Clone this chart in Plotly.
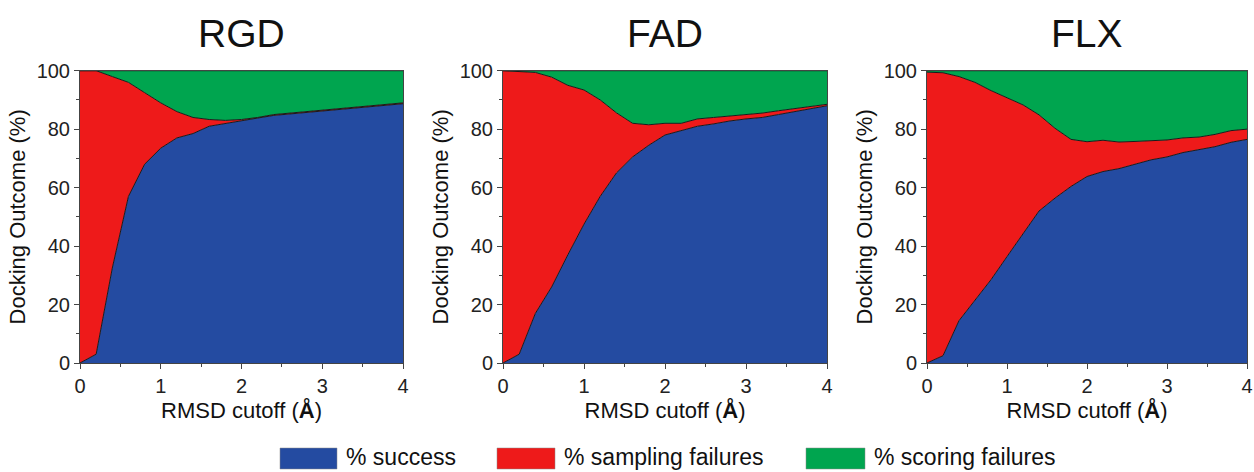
import plotly.graph_objects as go

# RMSD cutoff values (Å)
rmsd = [0.0, 0.2, 0.4, 0.6, 0.8, 1.0, 1.2, 1.4, 1.6, 1.8, 2.0,
        2.2, 2.4, 2.6, 2.8, 3.0, 3.2, 3.4, 3.6, 3.8, 4.0]

panel_titles = ["RGD", "FAD", "FLX"]

# Docking outcome percentages per protocol
rgd_success = [0, 3, 32.5, 57, 68, 73.5, 77, 78.5, 81, 82, 83,
               83.8, 84.7, 85.2, 85.7, 86, 86.7, 87.2, 87.5, 88, 88.7]
rgd_sampling = [100, 97, 65.5, 39, 24.5, 15.5, 9, 5.5, 2.3, 1, 0.3,
                0.2, 0.3, 0.3, 0.3, 0.3, 0.3, 0.3, 0.3, 0.3, 0.3]
rgd_scoring = [0, 0, 2, 4, 7.5, 11, 14, 16, 16.7, 17, 16.7,
               16, 15, 14.5, 14, 13.7, 13, 12.5, 12.2, 11.7, 11]

fad_success = [0, 3, 17, 26, 37, 47.5, 57, 65, 70.5, 74.5, 78,
               79.5, 81, 81.8, 82.8, 83.5, 84, 85, 86, 87, 88]
fad_sampling = [100, 96.8, 82.4, 71.8, 58, 45.9, 33, 20.6, 11.5, 7, 4,
                2.5, 2.5, 2.2, 1.7, 1.5, 1.5, 1.3, 1, 0.8, 0.5]
fad_scoring = [0, 0.2, 0.6, 2.2, 5, 6.6, 10, 14.4, 18, 18.5, 18,
               18, 16.5, 16, 15.5, 15, 14.5, 13.7, 13, 12.2, 11.5]

flx_success = [0, 2.5, 14.5, 21.5, 28.5, 36.4, 44.4, 52, 56.4, 60.4, 63.8,
               65.5, 66.5, 68, 69.5, 70.5, 72, 73, 74, 75.5, 76.5]
flx_sampling = [99.5, 96.8, 83.5, 74.5, 64.7, 54.4, 43.9, 32.9, 23.9, 16.1, 11.9,
                10.7, 9.1, 7.8, 6.5, 5.8, 5, 4.3, 4.2, 4, 3.5]
flx_scoring = [0.5, 0.7, 2, 4, 6.8, 9.2, 11.7, 15.1, 19.7, 23.5, 24.3,
               23.8, 24.4, 24.2, 24, 23.7, 23, 22.7, 21.8, 20.5, 20]

series_names = ["% success", "% sampling failures", "% scoring failures"]
series_colors = ["#244BA1", "#EE1A1A", "#00A54F"]

panels = [
    (rgd_success, rgd_sampling, rgd_scoring),
    (fad_success, fad_sampling, fad_scoring),
    (flx_success, flx_sampling, flx_scoring),
]

W, H = 1254, 472
FONT = "Liberation Sans, Arial, Helvetica, sans-serif"

# plot-area pixel extents of each panel
x_px = [(80, 403), (503, 827), (927, 1247)]
y_px = (70.7, 363)

def px_x(p):
    return p / W

def px_y(p):
    return 1 - p / H

fig = go.Figure()
layout = dict(
    width=W, height=H,
    margin=dict(l=0, r=0, t=0, b=0),
    paper_bgcolor="white", plot_bgcolor="white",
    font=dict(family=FONT, color="#222222"),
    showlegend=False,
)

annotations = []
for i, (series, title) in enumerate(zip(panels, panel_titles)):
    sfx = "" if i == 0 else str(i + 1)
    for name, vals, col in zip(series_names, series, series_colors):
        fig.add_trace(go.Scatter(
            x=rmsd, y=vals, name=name, mode="lines",
            stackgroup=f"p{i}", fillcolor=col,
            line=dict(color="#1a1a1a", width=1),
            xaxis="x" + sfx, yaxis="y" + sfx,
        ))
    x0, x1 = x_px[i]
    layout["xaxis" + sfx] = dict(
        domain=[px_x(x0), px_x(x1)], anchor="y" + sfx,
        range=[0, 4], dtick=1, tick0=0,
        ticks="outside", ticklen=5, tickcolor="#444", tickwidth=1,
        minor=dict(dtick=0.5, ticks="outside", ticklen=3, tickcolor="#444"),
        showline=True, linecolor="#444", linewidth=1, mirror=True,
        showgrid=False, zeroline=False, automargin=False,
        tickfont=dict(size=20, family=FONT, color="#222"),
        title=dict(text="RMSD cutoff (<b>Å</b>)", standoff=6,
                   font=dict(size=22, family=FONT, color="#111")),
    )
    layout["yaxis" + sfx] = dict(
        domain=[px_y(y_px[1]), px_y(y_px[0])], anchor="x" + sfx,
        range=[0, 100], dtick=20, tick0=0,
        ticks="outside", ticklen=5, tickcolor="#444", tickwidth=1,
        minor=dict(dtick=10, ticks="outside", ticklen=3, tickcolor="#444"),
        showline=True, linecolor="#444", linewidth=1, mirror=True,
        showgrid=False, zeroline=False, automargin=False,
        tickfont=dict(size=20, family=FONT, color="#222"),
        title=dict(text="Docking Outcome (%)", standoff=4,
                   font=dict(size=22, family=FONT, color="#111")),
    )
    annotations.append(dict(
        text=title, x=(px_x(x0) + px_x(x1)) / 2, y=px_y(33),
        xref="paper", yref="paper", showarrow=False,
        xanchor="center", yanchor="middle",
        font=dict(size=39, family=FONT, color="#111"),
    ))

# legend row beneath the panels
legend_boxes = [(280, 337), (497, 555), (806, 865)]
shapes = []
for (bx0, bx1), name, col in zip(legend_boxes, series_names, series_colors):
    shapes.append(dict(
        type="rect", xref="paper", yref="paper",
        x0=px_x(bx0), x1=px_x(bx1), y0=px_y(469), y1=px_y(448),
        fillcolor=col, line=dict(color="#888", width=0.5),
    ))
    annotations.append(dict(
        text=name, x=px_x(bx1 + 7), y=px_y(457),
        xref="paper", yref="paper", showarrow=False,
        xanchor="left", yanchor="middle",
        font=dict(size=23, family=FONT, color="#111"),
    ))

layout["annotations"] = annotations
layout["shapes"] = shapes
fig.update_layout(**layout)
fig.write_html("out.html")
